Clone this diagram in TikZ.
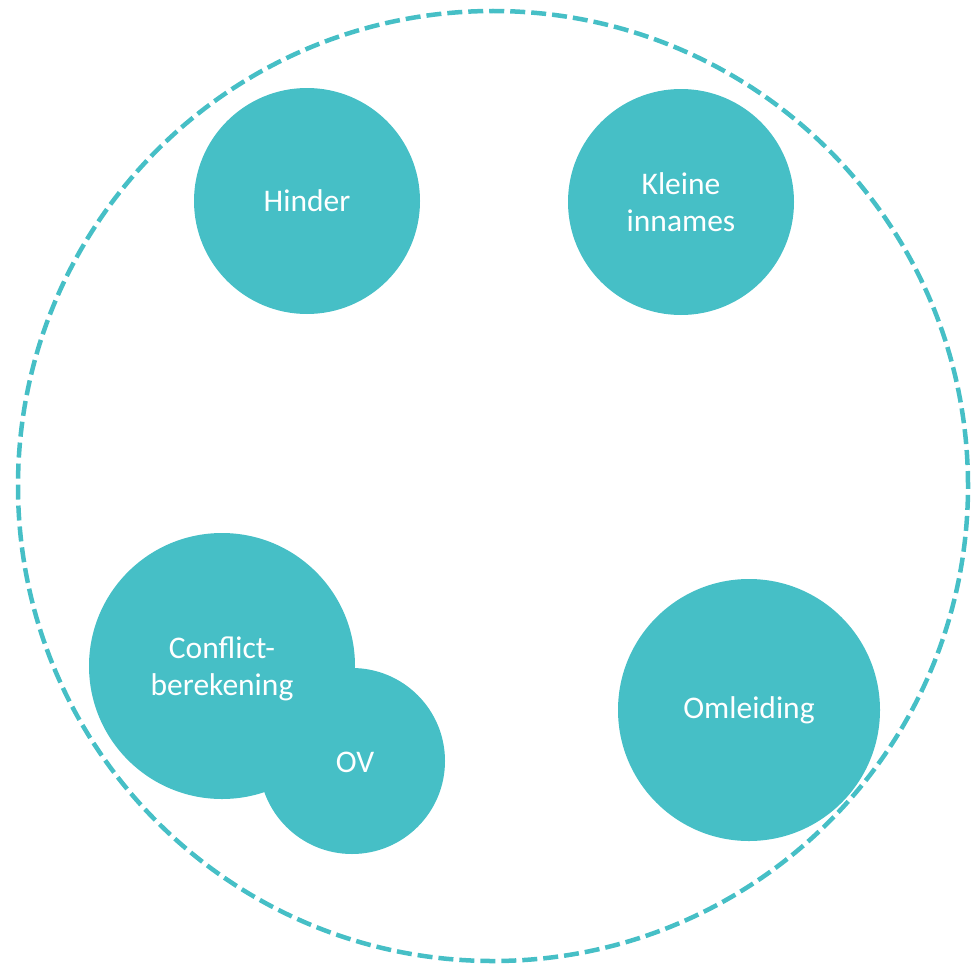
\documentclass[tikz,border=0pt]{standalone}
\usepackage{fontspec}
\setmainfont{Carlito}
\definecolor{teal1}{HTML}{46BFC6}
\begin{document}
\begin{tikzpicture}[x=1pt,y=-1pt,
  blob/.style={circle,fill=teal1,draw=none,text=white,align=center,inner sep=0pt,
    font=\fontsize{31.5}{37}\selectfont},
  ring/.style={circle,draw=teal1,line width=4.5pt,dash pattern=on 15pt off 6pt}]
\useasboundingbox (0,0) rectangle (971,966);
\node[ring,minimum size=950pt] (outer) at (493,486) {};
\node[blob,minimum size=226pt] (hinder) at (307,201) {Hinder};
\node[blob,minimum size=226pt] (kleine) at (681,202) {Kleine\\innames};
\node[blob,minimum size=186pt] (ov) at (352,761) {};
\node[blob,minimum size=266pt] (conflict) at (222,666) {};
\node[text=white,align=center,font=\fontsize{31.5}{37}\selectfont] (conflictt) at (222,669) {Conflict-\\berekening};
\node[text=white,font=\fontsize{31.5}{37}\selectfont] (ovt) at (355,762) {OV};
\node[blob,minimum size=262pt] (omleiding) at (749,710) {Omleiding};
\end{tikzpicture}
\end{document}
